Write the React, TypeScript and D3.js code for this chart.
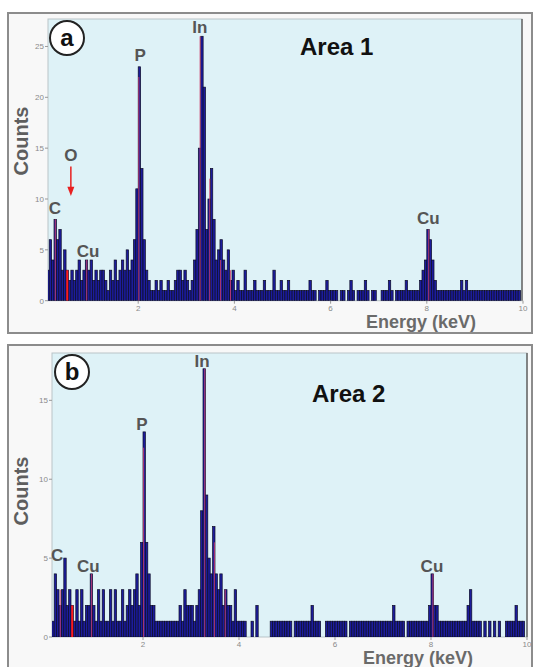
import React from "react";
import * as d3 from "d3";

// channel grid of the spectra (keV)
const binStart = 0.1;
const binWidth = 0.05;

// counts per 0.05 keV channel, 0.10 .. 9.95 keV
const countsA = [
  3, 6, 4, 8, 6, 7, 3, 5, 3, 2, 3, 2, 3, 4, 2, 3, 4, 3,
  4, 2, 3, 2, 3, 3, 2, 1, 3, 2, 4, 2, 3, 4, 3, 5, 3, 4, 6, 11,
  23, 13, 6, 3, 2, 1, 1, 2, 1, 2, 1, 1, 2, 1, 1, 2, 3, 3, 2, 3,
  2, 1, 2, 4, 7, 15, 26, 21, 7, 10, 13, 8, 4, 5, 6, 4, 3, 5, 2, 3,
  1, 2, 1, 1, 3, 1, 1, 1, 2, 1, 1, 1, 2, 1, 1, 1, 3, 1, 1, 2,
  1, 1, 2, 1, 1, 1, 1, 1, 1, 1, 1, 2, 1, 1, 0, 1, 1, 1, 2, 1,
  1, 1, 1, 0, 1, 1, 0, 1, 2, 1, 0, 1, 1, 1, 2, 1, 0, 1, 1, 0,
  0, 1, 1, 1, 2, 1, 0, 1, 1, 1, 1, 2, 1, 1, 1, 1, 1, 2, 3, 4,
  7, 6, 4, 2, 1, 1, 1, 1, 1, 1, 1, 1, 1, 1, 2, 1, 2, 1, 1, 1,
  1, 1, 1, 1, 1, 1, 1, 1, 1, 1, 1, 1, 1, 1, 1, 1, 1, 1, 1, 0,
];

const countsB = [
  1, 4, 3, 2, 3, 5, 2, 3, 2, 1, 3, 1, 3, 1, 2, 2, 4, 2,
  1, 3, 1, 3, 1, 1, 3, 1, 3, 1, 1, 3, 1, 2, 3, 2, 3, 4, 2, 6,
  13, 6, 4, 2, 2, 1, 1, 1, 1, 1, 1, 1, 1, 1, 1, 2, 1, 3, 2, 2,
  2, 1, 2, 3, 8, 17, 9, 5, 4, 7, 4, 3, 4, 2, 3, 2, 2, 1, 3, 1,
  1, 1, 1, 0, 0, 1, 0, 2, 0, 0, 0, 0, 0, 1, 1, 1, 1, 1, 1, 1,
  1, 1, 0, 1, 1, 1, 1, 1, 1, 1, 2, 1, 1, 1, 0, 0, 1, 1, 1, 1,
  1, 1, 1, 1, 1, 0, 1, 1, 1, 1, 1, 1, 1, 1, 1, 1, 1, 1, 1, 1,
  1, 1, 1, 1, 2, 1, 1, 1, 1, 0, 1, 1, 1, 1, 1, 1, 1, 1, 1, 2,
  4, 2, 2, 1, 1, 1, 1, 1, 1, 1, 1, 1, 1, 1, 1, 2, 3, 1, 1, 1,
  1, 0, 1, 0, 1, 0, 1, 0, 1, 0, 0, 1, 1, 1, 1, 2, 1, 1, 1, 0,
];

// element marker lines [energy keV, height counts]
const markersA = [
  [0.277, 8], [0.93, 4], [2.013, 22], [3.287, 26], [3.487, 12], [3.713, 4], [3.92, 3], [8.04, 7],
];
const markersB = [
  [0.277, 3], [0.93, 4], [2.013, 12], [3.287, 17], [3.487, 6], [3.713, 3], [8.04, 4],
];
// oxygen marker (red)
const oxygenA = [0.525, 3];
const oxygenB = [0.525, 2];

// peak labels [text, energy, count at baseline]
const labelsA = [
  ["C", 0.27, 8.5], ["O", 0.6, 13.7], ["Cu", 0.96, 4.3], ["P", 2.04, 23.6], ["In", 3.28, 26.3], ["Cu", 8.03, 7.5],
];
const labelsB = [
  ["C", 0.21, 4.8], ["Cu", 0.86, 4.1], ["P", 1.98, 13.1], ["In", 3.23, 17.1], ["Cu", 8.02, 4.1],
];

const xTicks = [2, 4, 6, 8, 10];
const yTicksA = [0, 5, 10, 15, 20, 25];
const yTicksB = [0, 5, 10, 15];

const font = "'Liberation Sans', Arial, sans-serif";

type PanelProps = {
  id: string;
  letter: string;
  title: string;
  counts: number[];
  markers: number[][];
  oxygen: number[];
  labels: (string | number)[][];
  yTicks: number[];
  yMax: number;
  frame: { x: number; y: number; w: number; h: number };
  plot: { left: number; right: number; top: number; bottom: number };
  xZero: number;
  xTen: number;
  circle: [number, number];
  titlePos: [number, number];
  countsY: number;
  energyPos: [number, number];
  arrow?: boolean;
};

const Panel = (p: PanelProps) => {
  const x = d3.scaleLinear().domain([0, 10]).range([p.xZero, p.xTen]);
  const y = d3.scaleLinear().domain([0, p.yMax]).range([p.plot.bottom, p.plot.top]);
  const bins = d3.range(p.counts.length).map((i) => ({
    e: binStart + i * binWidth,
    c: p.counts[i],
  }));

  return (
    <g>
      <rect x={p.frame.x} y={p.frame.y} width={p.frame.w} height={p.frame.h}
        fill="#f8f8f8" stroke="#8c8c8c" strokeWidth={2} />
      <clipPath id={`clip-${p.id}`}>
        <rect x={p.plot.left} y={p.plot.top} width={p.plot.right - p.plot.left}
          height={p.plot.bottom - p.plot.top} />
      </clipPath>
      <rect x={p.plot.left} y={p.plot.top} width={p.plot.right - p.plot.left}
        height={p.plot.bottom - p.plot.top} fill="#def2f7" stroke="#b9c4c8" strokeWidth={1} />
      <line x1={p.plot.right} x2={p.plot.right} y1={p.plot.top} y2={p.plot.bottom}
        stroke="#666" strokeWidth={1.5} />

      <g clipPath={`url(#clip-${p.id})`}>
        {bins.filter((b) => b.c > 0).map((b, i) => (
          <rect key={i} x={x(b.e)} width={x(b.e + binWidth) - x(b.e)}
            y={y(b.c)} height={y(0) - y(b.c)}
            fill="#1c1c9c" stroke="#0c0c26" strokeWidth={0.7} />
        ))}
        {p.markers.map(([e, c], i) => (
          <line key={i} x1={x(e)} x2={x(e)} y1={y(0)} y2={y(c)}
            stroke="#d2406e" strokeWidth={1} opacity={0.85} />
        ))}
        <line x1={x(p.oxygen[0])} x2={x(p.oxygen[0])} y1={y(0)} y2={y(p.oxygen[1])}
          stroke="#ff1a1a" strokeWidth={2} />
      </g>

      {/* axes */}
      <g fontFamily={font} fontSize={8} fill="#8a8a8a">
        {p.yTicks.map((t) => (
          <g key={t}>
            <line x1={p.plot.left - 3} x2={p.plot.left} y1={y(t)} y2={y(t)} stroke="#999" />
            <text x={p.plot.left - 4} y={y(t) + 3} textAnchor="end">{t}</text>
          </g>
        ))}
        {xTicks.map((t) => (
          <g key={t}>
            <line x1={x(t)} x2={x(t)} y1={p.plot.bottom} y2={p.plot.bottom + 3} stroke="#999" />
            <text x={x(t)} y={p.plot.bottom + 10} textAnchor="middle">{t}</text>
          </g>
        ))}
      </g>

      <text transform={`translate(${28},${p.countsY}) rotate(-90)`} textAnchor="middle"
        fontFamily={font} fontWeight="bold" fontSize={20} fill="#5e5e5e">Counts</text>
      <text x={p.energyPos[0]} y={p.energyPos[1]} textAnchor="middle"
        fontFamily={font} fontWeight="bold" fontSize={18} fill="#6a6a6a">Energy (keV)</text>

      {/* peak labels */}
      <g fontFamily={font} fontWeight="bold" fontSize={17} fill="#555">
        {p.labels.map(([t, e, c], i) => (
          <text key={i} x={x(e as number)} y={y(c as number)} textAnchor="middle">{t}</text>
        ))}
      </g>

      {p.arrow && (
        <g>
          <line x1={x(0.6)} x2={x(0.6)} y1={y(13.2)} y2={y(11)} stroke="#e82020" strokeWidth={1.5} />
          <path d={`M${x(0.6) - 3.5},${y(11.2)} L${x(0.6) + 3.5},${y(11.2)} L${x(0.6)},${y(10.3)} Z`}
            fill="#e82020" />
        </g>
      )}

      <circle cx={p.circle[0]} cy={p.circle[1]} r={17} fill="#fff" stroke="#222" strokeWidth={2} />
      <text x={p.circle[0]} y={p.circle[1] + 8} textAnchor="middle" fontFamily={font}
        fontWeight="bold" fontSize={24} fill="#111">{p.letter}</text>
      <text x={p.titlePos[0]} y={p.titlePos[1]} fontFamily={font} fontWeight="bold"
        fontSize={24} fill="#111">{p.title}</text>
    </g>
  );
};

export default function App() {
  return (
    <svg width={533} height={667} style={{ position: "absolute", left: 0, top: 0, background: "#fff" }}>
      <Panel id="a" letter="a" title="Area 1" counts={countsA} markers={markersA} oxygen={oxygenA}
        labels={labelsA} yTicks={yTicksA} yMax={27.7}
        frame={{ x: 8, y: 13, w: 524, h: 320 }}
        plot={{ left: 48, right: 522, top: 19, bottom: 300.7 }}
        xZero={42} xTen={523} circle={[67, 38]} titlePos={[300, 55]}
        countsY={141} energyPos={[421, 328]} arrow />
      <Panel id="b" letter="b" title="Area 2" counts={countsB} markers={markersB} oxygen={oxygenB}
        labels={labelsB} yTicks={yTicksB} yMax={18}
        frame={{ x: 8, y: 345, w: 524, h: 324 }}
        plot={{ left: 52, right: 527, top: 353, bottom: 637 }}
        xZero={47} xTen={527} circle={[72, 372]} titlePos={[312, 402]}
        countsY={491} energyPos={[418, 664]} />
    </svg>
  );
}
